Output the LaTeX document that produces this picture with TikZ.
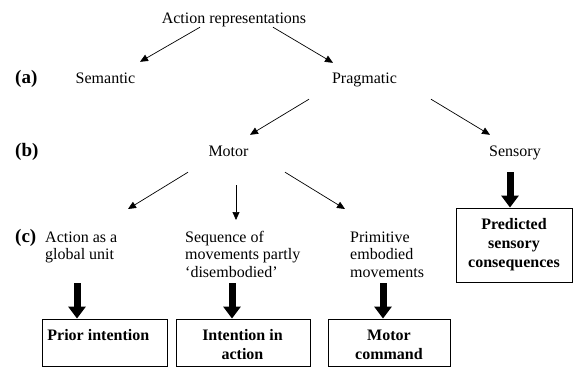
\documentclass[tikz,border=0pt]{standalone}
\usepackage{fontspec}
\setmainfont{Liberation Serif}
\usetikzlibrary{arrows.meta}
\tikzset{
  lbl/.style={inner sep=0pt, font=\fontsize{16}{17.5}\selectfont, text height=11pt, text depth=4pt, anchor=base},
  multi/.style={inner sep=0pt, font=\fontsize{16}{17.5}\selectfont, align=left, anchor=base west},
  tag/.style={inner sep=0pt, font=\fontsize{19}{20}\selectfont\bfseries, anchor=base west},
  boxtxt/.style={inner sep=0pt, font=\fontsize{16}{19}\selectfont\bfseries, align=center, anchor=base},
  box/.style={draw, line width=0.9pt, inner sep=0pt},
  arr/.style={line width=0.7pt, -{Triangle[length=8pt,width=7pt]}},
  fat/.style={line width=7pt, -{Triangle[length=12pt,width=17pt]}}
}
\begin{document}
\begin{tikzpicture}[x=1pt,y=-1pt]
\useasboundingbox (0,0) rectangle (575,368);
% text nodes (multi-line nodes: base = baseline of last line)
\node[lbl] (ar) at (234,23) {Action representations};
\node[lbl] (sem) at (105.5,83) {Semantic};
\node[lbl] (prag) at (364.5,83) {Pragmatic};
\node[lbl] (mot) at (228.5,156) {Motor};
\node[lbl] (sen) at (515,156) {Sensory};
\node[tag] (ta) at (15,83) {(a)};
\node[tag] (tb) at (15,156) {(b)};
\node[tag] (tc) at (15,242) {(c)};
\node[multi] (glob) at (45,259.5) {Action as a\\global unit};
\node[multi] (seq) at (185,277) {Sequence of\\movements partly\\‘disembodied’};
\node[multi] (prim) at (350,277) {Primitive\\embodied\\movements};
% boxes
\node[box, minimum width=125pt, minimum height=47pt] (b1) at (104.5,342.5) {};
\node[box, minimum width=134pt, minimum height=47pt] (b2) at (243,342.5) {};
\node[box, minimum width=122pt, minimum height=47pt] (b3) at (389,342.5) {};
\node[box, minimum width=116pt, minimum height=74pt] (b4) at (514,245) {};
\node[boxtxt] (t1) at (98.3,340) {Prior intention};
\node[boxtxt] (t2) at (242.5,359) {Intention in\\action};
\node[boxtxt] (t3) at (389,359) {Motor\\command};
\node[boxtxt] (t4) at (514,267) {Predicted\\sensory\\consequences};
% thin arrows
\draw[arr] ([shift={(-34,0)}]ar.south) -- ([shift={(34.5,-10)}]sem.north);
\draw[arr] ([shift={(39,0)}]ar.south) -- ([shift={(-31.5,-9)}]prag.north);
\draw[arr] ([shift={(-55.5,12)}]prag.south) -- ([shift={(21.5,-10)}]mot.north);
\draw[arr] ([shift={(66.5,12)}]prag.south) -- ([shift={(-25,-10)}]sen.north);
\draw[arr] ([shift={(-40.5,12)}]mot.south) -- ([shift={(83,-50.5)}]glob.base west);
\draw[arr] ([shift={(7.5,25)}]mot.south) -- ([shift={(51,-57)}]seq.base west);
\draw[arr] ([shift={(56.5,12)}]mot.south) -- ([shift={(-5,-68)}]prim.base west);
% thick arrows
\draw[fat] ([shift={(32,23.5)}]glob.base west) -- ([shift={(-27.5,0)}]b1.north);
\draw[fat] ([shift={(47,6)}]seq.base west) -- ([shift={(-11,0)}]b2.north);
\draw[fat] ([shift={(33,6)}]prim.base west) -- ([shift={(-6,0)}]b3.north);
\draw[fat] ([shift={(-5,12)}]sen.south) -- ([shift={(-4,0)}]b4.north);
\end{tikzpicture}
\end{document}
